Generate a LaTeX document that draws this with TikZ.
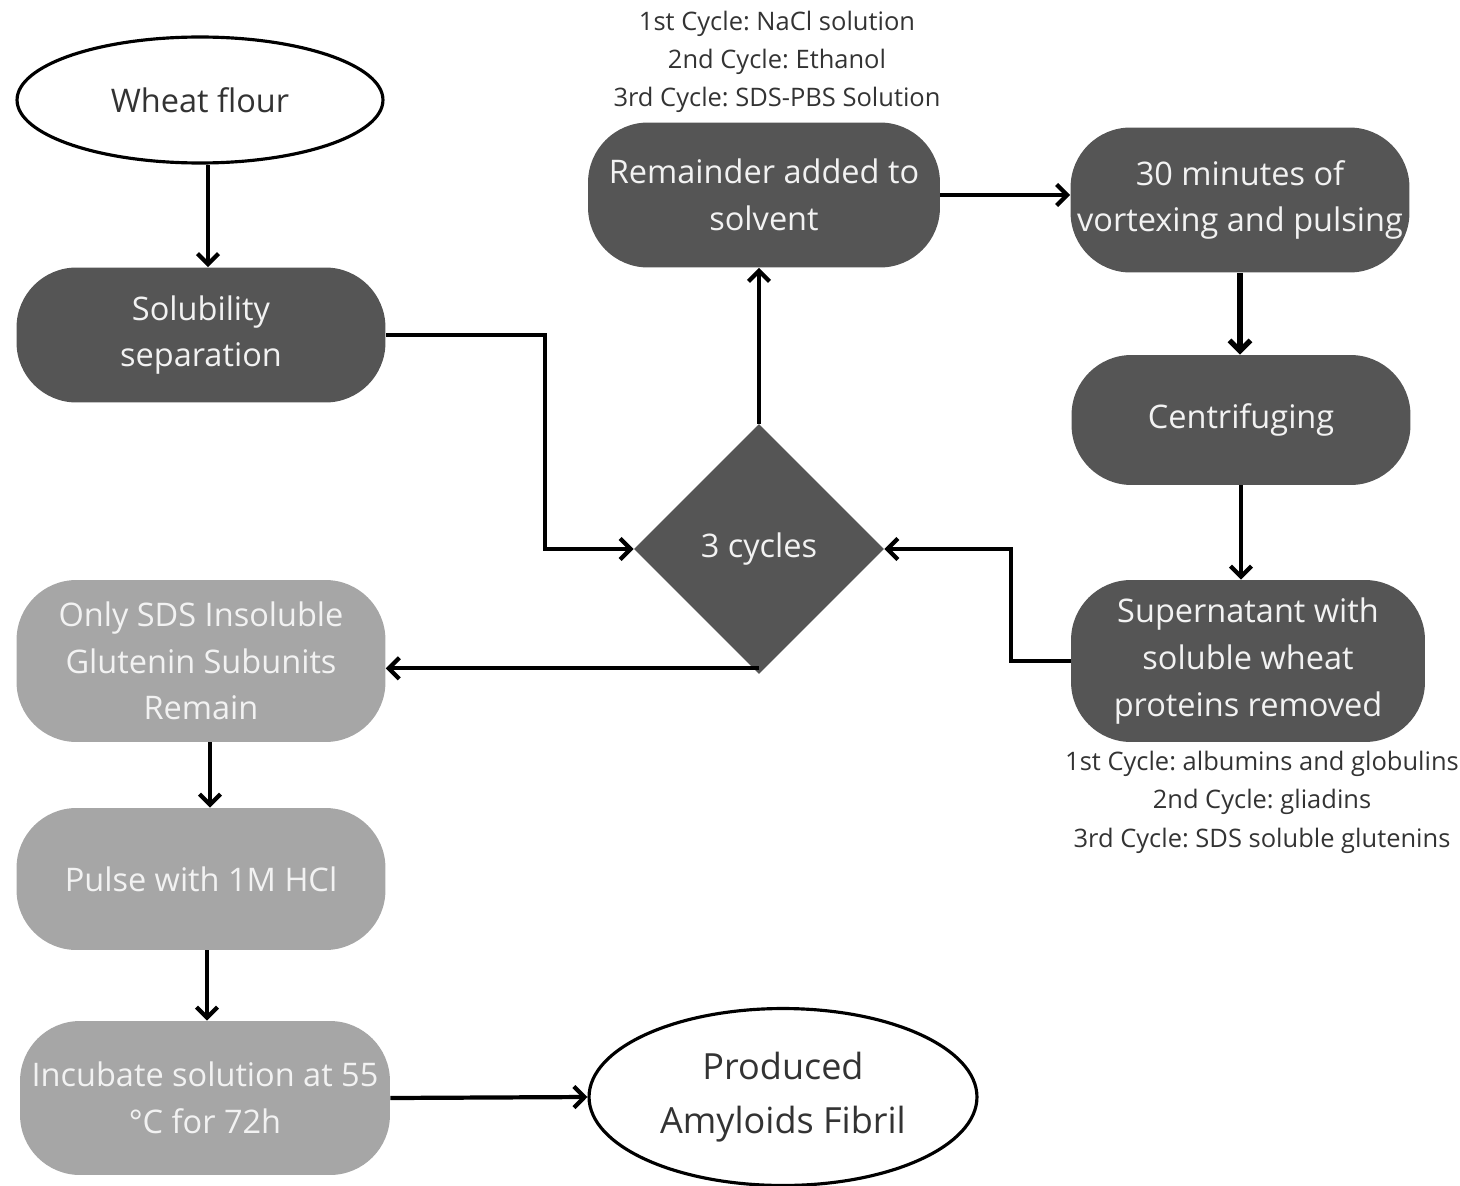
\documentclass[tikz,border=0pt]{standalone}
\usepackage{fontspec}
\setmainfont{Open Sans}
\usepackage{xcolor}
\usetikzlibrary{shapes.geometric,arrows.meta,calc}
\frenchspacing

\definecolor{boxdark}{HTML}{555555}
\definecolor{boxlight}{HTML}{A6A6A6}
\definecolor{txtlight}{HTML}{F2F2F2}
\definecolor{txtdark}{HTML}{333333}

\begin{document}
\begin{tikzpicture}[x=0.02cm, y=-0.02cm,
		darkbox/.style={fill=boxdark, draw=none, rounded corners=1.2cm, text=txtlight, align=center, inner sep=0pt, font=\fontsize{18.5}{26.5}\selectfont},
		lightbox/.style={darkbox, fill=boxlight},
		endpoint/.style={ellipse, draw=black, line width=1.8pt, fill=white, text=txtdark, align=center, inner sep=0pt},
		flow/.style={line width=2.4pt, -{Straight Barb[length=6pt,width=12pt]}},
		note/.style={text=txtdark, align=center, font=\fontsize{14.5}{21.8}\selectfont}]
		\useasboundingbox (0,0) rectangle (1460,1186);

		% left column
		\node[endpoint, minimum width=7.32cm, minimum height=2.52cm, font=\fontsize{18.5}{26.5}\selectfont] (flour) at (200,100) {Wheat flour};
		\node[darkbox, minimum width=7.38cm, minimum height=2.7cm] (solub) at (201,335) {Solubility\\separation};
		\node[lightbox, minimum width=7.38cm, minimum height=3.24cm] (insol) at (201,661) {Only SDS Insoluble\\Glutenin Subunits\\Remain};
		\node[lightbox, minimum width=7.38cm, minimum height=2.84cm] (pulse) at (201,879) {Pulse with 1M HCl};
		\node[lightbox, minimum width=7.4cm, minimum height=3.08cm] (incub) at (205,1098) {Incubate solution at 55\\°C for 72h};
		\node[endpoint, minimum width=7.76cm, minimum height=3.54cm, font=\fontsize{20.5}{31}\selectfont] (fibril) at (783,1097) {Produced\\Amyloids Fibril};

		% cycle loop
		\node[diamond, fill=boxdark, text=txtlight, inner sep=0pt, minimum width=5cm, minimum height=5cm, font=\fontsize{18.5}{26.5}\selectfont] (cycles) at (759,549) {3 cycles};
		\node[darkbox, minimum width=7.04cm, minimum height=2.9cm] (solvent) at (764,195) {Remainder added to\\solvent};
		\node[darkbox, minimum width=6.78cm, minimum height=2.9cm] (vortex) at (1240,200) {30 minutes of\\vortexing and pulsing};
		\node[darkbox, minimum width=6.78cm, minimum height=2.6cm] (centri) at (1241,420) {Centrifuging};
		\node[darkbox, minimum width=7.08cm, minimum height=3.24cm] (super) at (1248,661) {Supernatant with\\soluble wheat\\proteins removed};

		\node[note, anchor=south] (solvnote) at (777,119) {1st Cycle: NaCl solution\\2nd Cycle: Ethanol\\3rd Cycle: SDS-PBS Solution};
		\node[note, anchor=north] (protnote) at (1262,745) {1st Cycle: albumins and globulins\\2nd Cycle: gliadins\\3rd Cycle: SDS soluble glutenins};

		\draw[flow] (flour.south -| 208,0) -- (solub.north -| 208,0);
		\draw[flow] (solub.east) -- ++(159,0) |- (cycles.west);
		\draw[flow] (cycles.north) -- (cycles.north |- solvent.south);
		\draw[flow] (solvent.east) -- (solvent.east -| vortex.west);
		\draw[flow, line width=3pt] (vortex.south) -- (vortex.south |- centri.north);
		\draw[flow] (centri.south) -- (centri.south |- super.north);
		\draw[flow] (super.west) -- ++(-60,0) |- (cycles.east);
		\draw[flow] ($(cycles.south)+(0,-6)$) coordinate (cycbot) -- (insol.east |- cycbot);
		\draw[flow] (insol.south -| 210,0) -- (pulse.north -| 210,0);
		\draw[flow] (pulse.south -| 207,0) -- (incub.north -| 207,0);
		\draw[flow] (incub.east) -- (fibril.west);
	\end{tikzpicture}
\end{document}
